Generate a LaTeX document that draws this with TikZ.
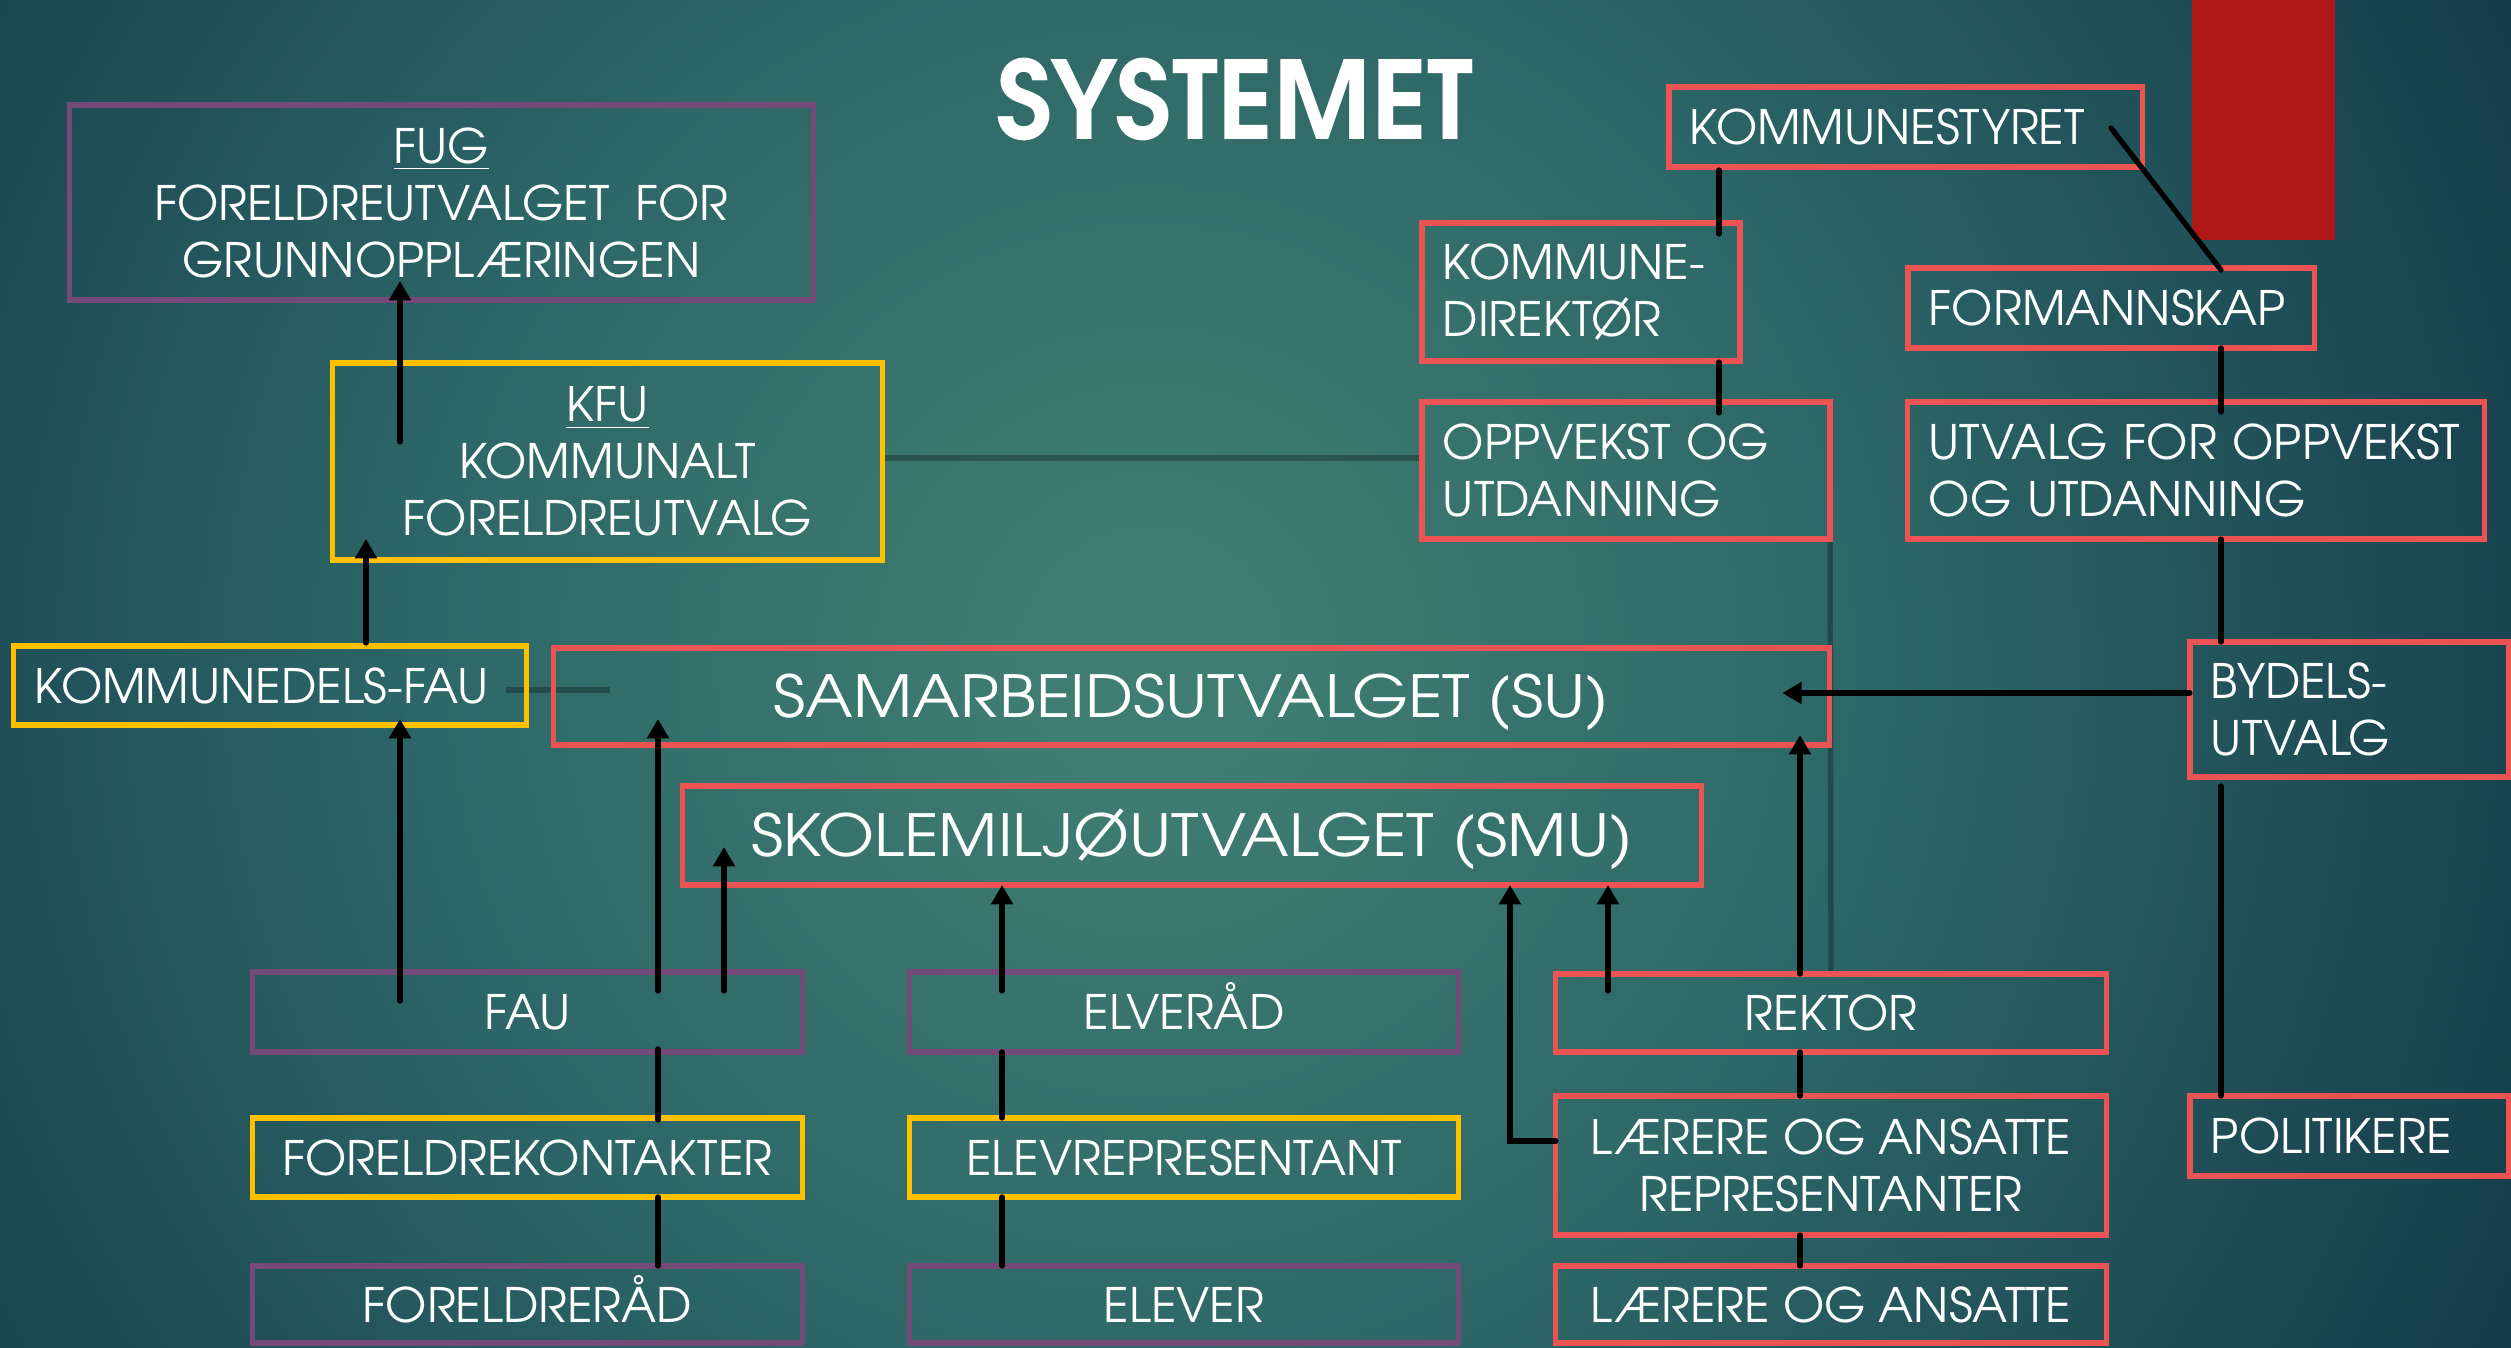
\documentclass[tikz,border=0pt]{standalone}
\usepackage{fontspec}
\usepackage{graphicx}
\setmainfont{texgyreadventor}[Extension=.otf,UprightFont=*-regular,BoldFont=*-bold,ItalicFont=*-italic,BoldItalicFont=*-bolditalic]
\usetikzlibrary{calc,arrows.meta}

\definecolor{bxred}{HTML}{EC5353}
\definecolor{bxpur}{HTML}{744A78}
\definecolor{bxyel}{HTML}{FFC000}
\definecolor{blockred}{HTML}{B01717}
\definecolor{bgin}{HTML}{3F7C71}
\definecolor{bgmid}{HTML}{2D6767}
\definecolor{bgout}{HTML}{153C4B}

% TikZ maps the shading's +-25bp square onto the path's bounding box
\pgfdeclareradialshading{bgshade}{\pgfpoint{0bp}{0bp}}{color(0bp)=(bgin); color(2bp)=(bgin); color(12bp)=(bgmid); color(25bp)=(bgout); color(50bp)=(bgout)}
\pgfdeclarelayer{bglayer}
\pgfdeclarelayer{linelayer}
\pgfsetlayers{bglayer,linelayer,main}

\begin{document}
\begin{tikzpicture}[x=0.01cm,y=-0.01cm,
  bx/.style={draw, line width=1.5pt, text=white, inner sep=0pt, outer sep=0pt,
    font=\fontsize{13.5}{16.2}\selectfont, align=center},
  sgl/.style={text height=10pt, text depth=0pt},
  lbx/.style={bx, align=left, inner xsep=0.21cm},
  bigbx/.style={bx, font=\fontsize{16.5}{19}\selectfont, text height=12.2pt, text depth=0pt},
  conn/.style={line width=1.5pt, line cap=round, draw=black},
  arr/.style={conn, -{Triangle[width=6pt,length=5.5pt]}},
  gline/.style={line width=1.5pt, draw=black, opacity=0.28}
]
\useasboundingbox (0,0) rectangle (2511,1348);
\begin{pgfonlayer}{bglayer}
  \fill[bgout] (0,0) rectangle (2511,1348);
  \begin{scope}
    \clip (0,0) rectangle (2511,1348);
    \shade[shading=bgshade] (1150,660) circle[radius=15cm];
  \end{scope}
  \fill[blockred] (2192,0) rectangle (2335,240);
\end{pgfonlayer}

% title
\node[text=white, font=\fontsize{30.8}{36}\selectfont\bfseries, inner sep=0pt] (title) at (1235,99) {SYSTEMET};

% left column
\node[bx, draw=bxpur, minimum width=7.43cm, minimum height=1.95cm] (fug) at (441.5,202.5)
  {\underline{FUG}\\FOREL\-DREUTVALGET\ \ FOR\\GRUNNOPPLÆRINGEN};
\node[bx, draw=bxyel, minimum width=5.49cm, minimum height=1.97cm] (kfu) at (607.5,461.5)
  {\underline{KFU}\\KOMMUNALT\\FORELDREUTVALG};
\node[lbx, sgl, draw=bxyel, text width=4.70cm, minimum height=0.79cm] (kdfau) at (270,685.5) {KOMMUNEDELS-FAU};

% central committees
\node[bigbx, draw=bxred, minimum width=12.75cm, minimum height=0.97cm] (su) at (1191.5,696.5)
  {\scalebox{1.11}[1]{SAMARBEIDSUTVALGET (SU)}};
\node[bigbx, draw=bxred, minimum width=10.18cm, minimum height=0.99cm] (smu) at (1192,835.5)
  {\scalebox{1.11}[1]{SKOLEMILJØUTVALGET (SMU)}};

% bottom rows
\node[bx, sgl, draw=bxpur, minimum width=5.49cm, minimum height=0.80cm] (fau) at (527.5,1012) {FAU};
\node[bx, sgl, draw=bxyel, minimum width=5.49cm, minimum height=0.79cm] (fk) at (527.5,1157.5) {FORELDREKONTAKTER};
\node[bx, sgl, draw=bxpur, minimum width=5.49cm, minimum height=0.77cm] (fr) at (527.5,1304.5) {FORELDRERÅD};

\node[bx, sgl, draw=bxpur, minimum width=5.48cm, minimum height=0.80cm] (elverad) at (1184,1012) {ELVERÅD};
\node[bx, sgl, draw=bxyel, minimum width=5.48cm, minimum height=0.79cm] (elevrep) at (1184,1157.5) {ELEVREPRESENTANT};
\node[bx, sgl, draw=bxpur, minimum width=5.48cm, minimum height=0.77cm] (elever) at (1184,1304.5) {ELEVER};

\node[bx, sgl, draw=bxred, minimum width=5.50cm, minimum height=0.78cm] (rektor) at (1831,1013) {REKTOR};
\node[bx, draw=bxred, minimum width=5.50cm, minimum height=1.39cm] (larrep) at (1831,1165.5) {LÆRERE OG ANSATTE\\REPRESENTANTER};
\node[bx, sgl, draw=bxred, minimum width=5.50cm, minimum height=0.77cm] (larer) at (1831,1304.5) {LÆRERE OG ANSATTE};

% municipal side
\node[lbx, sgl, draw=bxred, text width=4.31cm, minimum height=0.80cm] (kstyret) at (1905.5,127) {KOMMUNESTYRET};
\node[lbx, draw=bxred, text width=2.76cm, minimum height=1.38cm] (kdir) at (1581,292) {KOMMUNE-\\DIREKTØR};
\node[lbx, draw=bxred, text width=3.66cm, minimum height=1.37cm] (oppv) at (1626,470.5) {OPPVEKST~OG\\UTDANNING};
\node[lbx, sgl, draw=bxred, text width=3.64cm, minimum height=0.80cm] (formann) at (2111,308) {FORMANNSKAP};
\node[lbx, draw=bxred, text width=5.34cm, minimum height=1.37cm] (utvalg) at (2196,470.5) {UTVALG~FOR~OPPVEKST\\OG~UTDANNING};
\node[lbx, draw=bxred, text width=2.77cm, minimum height=1.35cm] (bydels) at (2349.5,709.5) {BYDELS-\\UTVALG};
\node[lbx, sgl, draw=bxred, text width=2.77cm, minimum height=0.80cm] (polit) at (2349.5,1136) {POLITIKERE};

% grey links
\begin{pgfonlayer}{linelayer}
  \draw[gline] ($(kdfau.east)+(-20,4.5)$) -- ($(su.west)+(56,-6.5)$);
  \draw[gline] ($(kfu.east)+(0,-3.5)$) -- ($(oppv.west)+(0,-12.5)$);
  \draw[gline] (oppv.south east) -- (rektor.north);
\end{pgfonlayer}

% parents
\draw[arr] ($(fau.north)+(-127.5,29)$) -- ($(kdfau.south)+(130,-6)$);
\draw[arr] ($(fau.north)+(130.5,19)$) -- ($(su.south)+(-533.5,-26)$);
\draw[arr] ($(fau.north)+(196.5,19)$) -- ($(smu.south)+(-468,-38)$);
\draw[conn] ($(fau.south)+(130.5,-3)$) -- ($(fk.north)+(130.5,2)$);
\draw[conn] ($(fk.south)+(130.5,0)$) -- ($(fr.north)+(130.5,0)$);
\draw[arr] ($(kdfau.north)+(96,-3)$) -- ($(kfu.south)+(-241.5,-21)$);
\draw[arr] ($(kfu.north)+(-207.5,79)$) -- ($(fug.south)+(-41.5,-19)$);

% pupils
\draw[arr] ($(elverad.north)+(-182,19)$) -- ($(smu.south)+(-190,0)$);
\draw[conn] ($(elverad.south)+(-182,0)$) -- ($(elevrep.north)+(-182,0)$);
\draw[conn] ($(elevrep.south)+(-182,0)$) -- ($(elever.north)+(-182,0)$);

% staff
\draw[arr] ($(rektor.north)+(-31,0)$) -- ($(su.south)+(608.5,-10)$);
\draw[arr] ($(rektor.north)+(-223,17)$) -- ($(smu.south)+(416,0)$);
\draw[arr] ($(larrep.west)+(0,-24.5)$) -| ($(smu.south)+(318,0)$);
\draw[conn] ($(rektor.south)+(-31,0)$) -- ($(larrep.north)+(-31,0)$);
\draw[conn] ($(larrep.south)+(-31,0)$) -- ($(larer.north)+(-31,0)$);

% municipality
\draw[conn] ($(kstyret.south)+(-186.5,3)$) -- ($(kdir.north)+(138,11)$);
\draw[conn] ($(kdir.south)+(138,1)$) -- ($(oppv.north)+(93,11)$);
\draw[conn] ($(kstyret.center)+(205.5,1)$) -- ($(formann.north)+(110,2)$);
\draw[conn] ($(formann.south)+(110,0)$) -- ($(utvalg.north)+(25,10)$);
\draw[conn] ($(utvalg.south)+(25,0)$) -- ($(bydels.north)+(-128.5,0)$);
\draw[arr] ($(bydels.west)+(0,-16.5)$) -- ($(su.east)+(-47,-3.5)$);
\draw[conn] ($(bydels.south)+(-128.5,9)$) -- ($(polit.north)+(-128.5,0)$);
\end{tikzpicture}
\end{document}
